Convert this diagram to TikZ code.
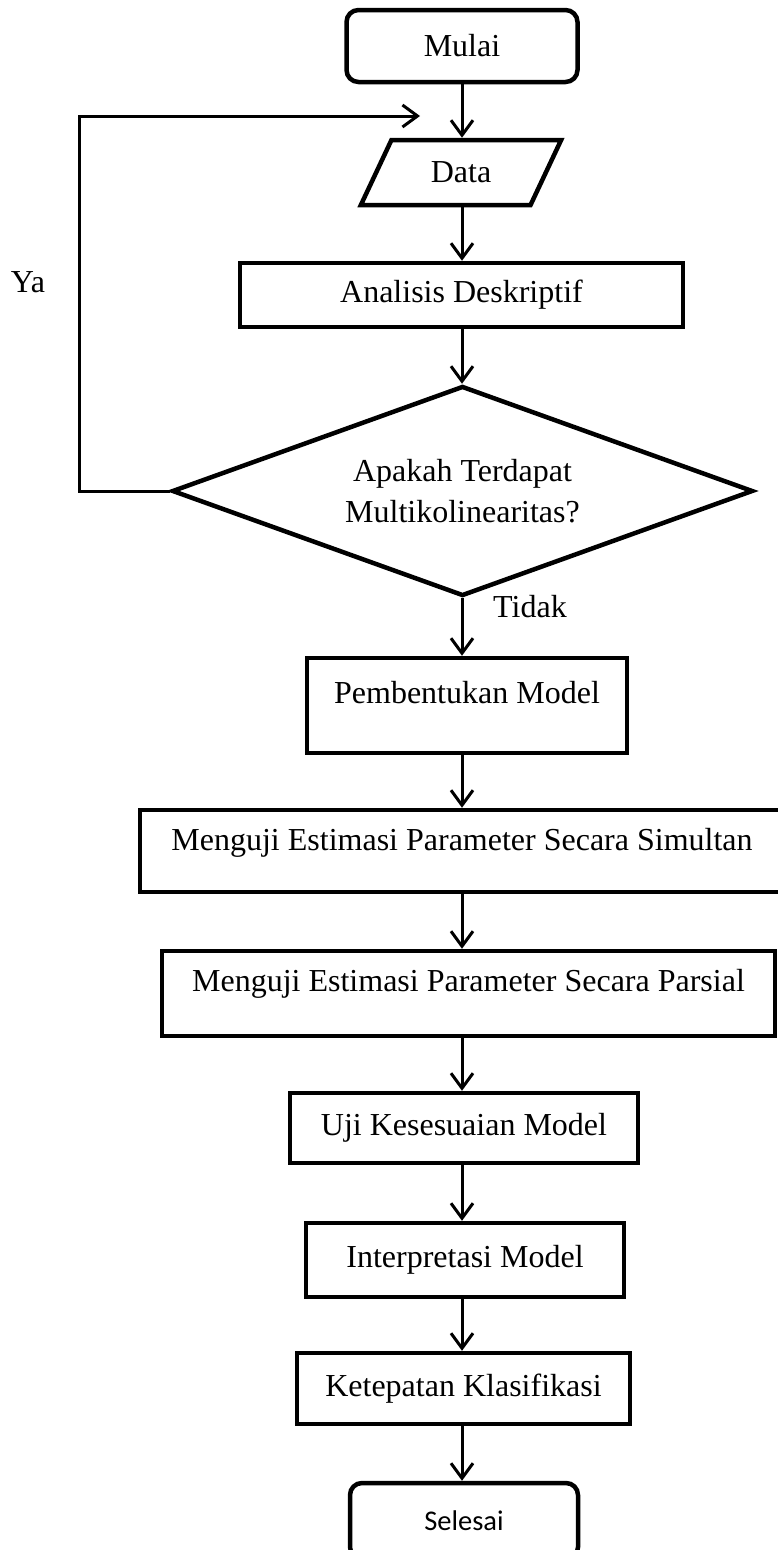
\documentclass[tikz,border=0pt]{standalone}
\usepackage{fontspec}
\setmainfont{Liberation Serif}
\newfontfamily\endfont{Carlito}
\usetikzlibrary{arrows.meta,shapes.geometric}

\begin{document}
\begin{tikzpicture}[x=1pt, y=-1pt,
  every node/.style={font=\fontsize{32}{41}\selectfont, align=center},
  box/.style={draw, line width=4.5pt, inner sep=0pt},
  term/.style={box, rounded corners=12pt},
  io/.style={box, trapezium, trapezium left angle=58, trapezium right angle=122,
    trapezium stretches=true},
  decision/.style={box, diamond, aspect=2.77},
  arr/.style={line width=3pt, -{Straight Barb[length=15pt, width=22pt]}}]
\useasboundingbox (0,0) rectangle (777,1550);
\coordinate (axis) at (462,0);

\node[term, minimum width=231pt, minimum height=72pt] (mulai) at (462,46) {Mulai};
\node[io, minimum width=202pt, minimum height=65pt] (data) at (461,172.5) {Data};
\node[box, minimum width=443pt, minimum height=64pt] (desk) at (461.5,295) {Analisis Deskriptif};
\node[decision, minimum width=581pt, minimum height=210pt] (dec) at (462.5,491)
  {Apakah Terdapat\\Multikolinearitas?};
\node[box, minimum width=320pt, minimum height=95pt,
  label={[yshift=13pt]center:Pembentukan Model}] (model) at (467,705.5) {};
\node[box, minimum width=644pt, minimum height=82pt,
  label={[yshift=8pt]center:Menguji Estimasi Parameter Secara Simultan}] (simul) at (462,851) {};
\node[box, minimum width=613pt, minimum height=85pt,
  label={[yshift=10pt]center:Menguji Estimasi Parameter Secara Parsial}] (parsial) at (468.5,993.5) {};
\node[box, minimum width=348pt, minimum height=70pt] (uji) at (464,1128) {Uji Kesesuaian Model};
\node[box, minimum width=318pt, minimum height=74pt] (interp) at (465,1260) {Interpretasi Model};
\node[box, minimum width=333pt, minimum height=71pt] (tepat) at (463.5,1388.5) {Ketepatan Klasifikasi};
\node[term, minimum width=228pt, minimum height=76pt,
  font=\endfont\fontsize{28.5}{34}\selectfont] (selesai) at (464,1521) {Selesai};

% alur utama
\foreach \a/\b in {mulai/data, data/desk, desk/dec, dec/model, model/simul,
    simul/parsial, parsial/uji, uji/interp, interp/tepat, tepat/selesai}
  \draw[arr] (\a.south -| axis) -- (\b.north -| axis);

% kembali jika ada multikolinearitas
\coordinate (back) at (420,116);
\draw[arr] (dec.west) -- ++(-90,0) |- (back);

\node (ya) at (28,282) {Ya};
\node (tidak) at (530,607) {Tidak};
\end{tikzpicture}
\end{document}
